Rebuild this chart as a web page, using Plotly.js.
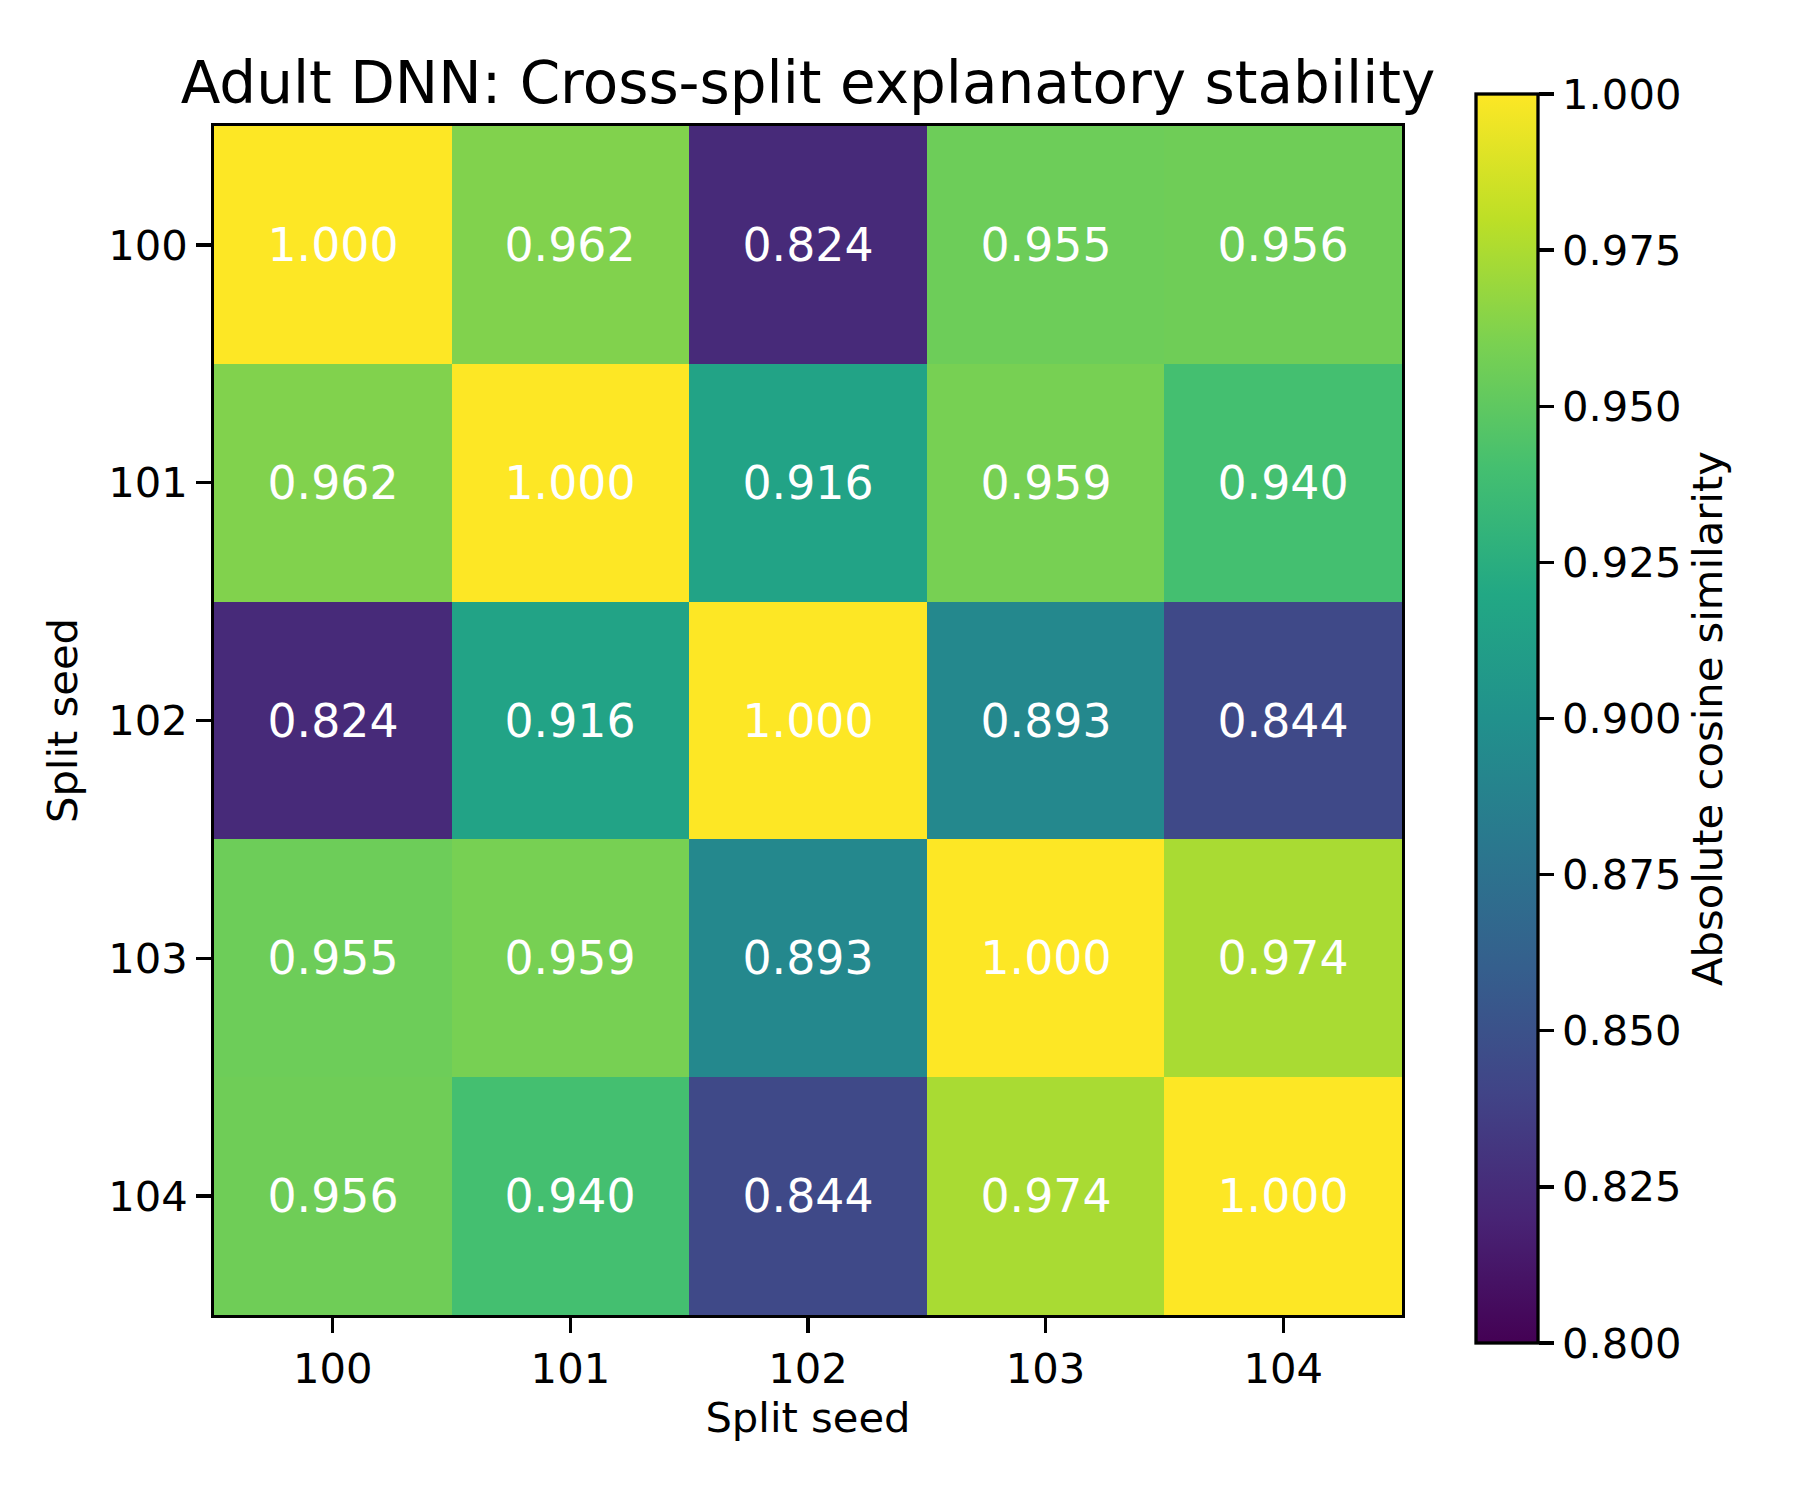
<!DOCTYPE html>
<html>
<head>
<meta charset="utf-8">
<script src="https://cdn.plot.ly/plotly-3.0.1.min.js"></script>
<style>html,body{margin:0;padding:0;background:#fff;}#chart{width:1800px;height:1500px;}</style>
</head>
<body>
<div id="chart"></div>
<script>
const seeds = ["100", "101", "102", "103", "104"];
const row100 = [1.000, 0.962, 0.824, 0.955, 0.956];
const row101 = [0.962, 1.000, 0.916, 0.959, 0.940];
const row102 = [0.824, 0.916, 1.000, 0.893, 0.844];
const row103 = [0.955, 0.959, 0.893, 1.000, 0.974];
const row104 = [0.956, 0.940, 0.844, 0.974, 1.000];
const colorTicks = [0.800, 0.825, 0.850, 0.875, 0.900, 0.925, 0.950, 0.975, 1.000];

const viridis = [
  [0.0, "#440154"], [0.1, "#482475"], [0.2, "#414487"], [0.3, "#355f8d"],
  [0.4, "#2a788e"], [0.5, "#21918c"], [0.6, "#22a884"], [0.7, "#44bf70"],
  [0.8, "#7ad151"], [0.9, "#bddf26"], [1.0, "#fde725"]
];

const font = "DejaVu Sans, sans-serif";
const L = 214, R = 1402, T = 126, B = 1315;
const W = 1800, H = 1500;
const pw = R - L, ph = B - T;
const cbLeft = 1476, cbTop = 94, cbBottom = 1343;

const trace = {
  type: "heatmap",
  x: seeds,
  y: seeds,
  z: [row100, row101, row102, row103, row104],
  zmin: 0.8,
  zmax: 1.0,
  colorscale: viridis,
  texttemplate: "%{z:.3f}",
  textfont: {family: font, size: 45.8, color: "#ffffff"},
  hoverinfo: "skip",
  colorbar: {
    x: (cbLeft - L) / pw,
    xanchor: "left",
    xref: "paper",
    y: (B - (cbTop + cbBottom) / 2) / ph,
    yanchor: "middle",
    len: cbBottom - cbTop,
    lenmode: "pixels",
    thickness: 62,
    thicknessmode: "pixels",
    outlinewidth: 3.3,
    outlinecolor: "#000",
    tickmode: "array",
    tickvals: colorTicks,
    ticktext: colorTicks.map(v => v.toFixed(3)),
    ticks: "outside",
    ticklen: 14.6,
    tickwidth: 3.3,
    tickcolor: "#000",
    tickfont: {family: font, size: 41.7, color: "#000"},
    xpad: 0,
    ypad: 0,
    title: {text: "Absolute cosine similarity", side: "right", font: {family: font, size: 41.7, color: "#000"}}
  }
};

const axisCommon = {
  type: "category",
  showgrid: false,
  zeroline: false,
  showline: true,
  mirror: true,
  linecolor: "#000",
  linewidth: 3.3,
  ticks: "outside",
  ticklen: 14.6,
  tickwidth: 3.3,
  tickcolor: "#000",
  tickfont: {family: font, size: 41.7, color: "#000"}
};

const layout = {
  width: W,
  height: H,
  paper_bgcolor: "#fff",
  plot_bgcolor: "#fff",
  margin: {l: L, r: W - R, t: T, b: H - B, pad: 0},
  title: {
    text: "Adult DNN: Cross-split explanatory stability",
    font: {family: font, size: 58, color: "#000"},
    x: (L + R) / 2 / W,
    xanchor: "center",
    xref: "container",
    y: 1 - 83 / H,
    yanchor: "middle",
    yref: "container"
  },
  xaxis: Object.assign({}, axisCommon, {
    title: {text: "Split seed", font: {family: font, size: 41.7, color: "#000"}, standoff: 12}
  }),
  yaxis: Object.assign({}, axisCommon, {
    autorange: "reversed",
    title: {text: "Split seed", font: {family: font, size: 41.7, color: "#000"}, standoff: 18}
  })
};

Plotly.newPlot("chart", [trace], layout, {displayModeBar: false, staticPlot: true});
</script>
</body>
</html>
